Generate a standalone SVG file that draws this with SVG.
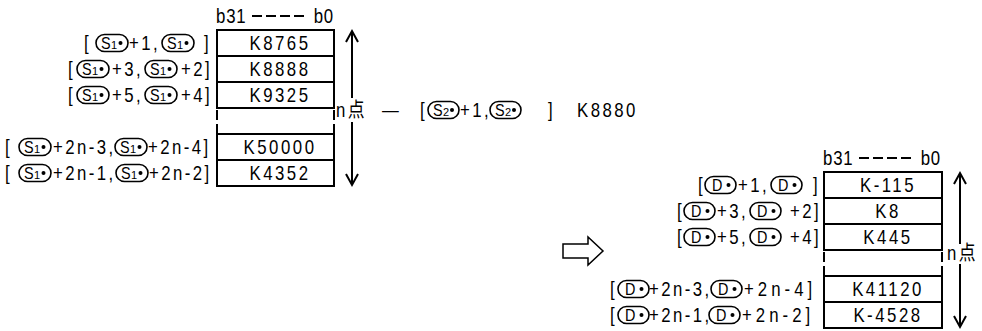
<svg xmlns="http://www.w3.org/2000/svg" xmlns:xlink="http://www.w3.org/1999/xlink" width="982" height="331" viewBox="0 0 982 331">
<style>
.t{font-family:"Liberation Sans",Arial,"Noto Sans CJK JP",sans-serif;font-size:20px;fill:#000;letter-spacing:2.9px}
.w{letter-spacing:4.8px}
.v{font-family:"Liberation Sans",Arial,sans-serif;font-size:20px;fill:#000;letter-spacing:3px;text-anchor:middle}
.h{font-family:"Liberation Sans",Arial,sans-serif;font-size:20px;fill:#000;letter-spacing:1px}
.box{fill:#fff;stroke:#000;stroke-width:2}
.dash{fill:none;stroke:#000;stroke-width:2;stroke-dasharray:10 4}
.pill{fill:#fff;stroke:#000;stroke-width:1.6}
.pt{font-family:"Liberation Sans",Arial,sans-serif;font-size:16px;fill:#000}
.ps{font-family:"Liberation Sans",Arial,sans-serif;font-size:11px;fill:#000}
.ln{fill:none;stroke:#000;stroke-width:2}
.ha{fill:#fff;stroke:#000;stroke-width:1.5}
</style>
<defs>
<g id="pS1"><rect class="pill" x="0" y="-8.5" width="32" height="17" rx="8.5"/><text class="pt" transform="translate(5,6) scale(.9,1)">S</text><text class="ps" x="15" y="6">1</text><circle cx="24.5" cy="0" r="2"/></g>
<g id="pS2"><rect class="pill" x="0" y="-8.5" width="31" height="17" rx="8.5"/><text class="pt" transform="translate(5,6) scale(.9,1)">S</text><text class="ps" x="15" y="6">2</text><circle cx="24" cy="0" r="2"/></g>
<g id="pD"><rect class="pill" x="0" y="-8.5" width="31" height="17" rx="8.5"/><text class="pt" transform="translate(7,6) scale(.9,1)">D</text><circle cx="23.5" cy="0" r="2"/></g>
</defs>

<g id="left-header">
<text class="h" transform="translate(216,23) scale(.84,1)">b31</text>
<line class="dash" x1="252" y1="16" x2="304" y2="16"/>
<text class="h" transform="translate(334,23) scale(.84,1)" text-anchor="end">b0</text>
</g>

<g id="left-row1">
<rect class="box" x="217" y="30" width="117" height="26"/>
<text class="v" transform="translate(280,50) scale(.84,1)">K8765</text>
<text class="t" transform="translate(84,50) scale(.84,1)">[</text><use xlink:href="#pS1" x="96" y="43"/><text class="t" transform="translate(129,50) scale(.84,1)">+1,</text><use xlink:href="#pS1" x="162" y="43"/><text class="t" transform="translate(204,50) scale(.84,1)">]</text>
</g>
<g id="left-row2">
<rect class="box" x="217" y="56" width="117" height="26"/>
<text class="v" transform="translate(280,76) scale(.84,1)">K8888</text>
<text class="t" transform="translate(68,76) scale(.84,1)">[</text><use xlink:href="#pS1" x="77" y="69"/><text class="t" transform="translate(112,76) scale(.84,1)">+3,</text><use xlink:href="#pS1" x="145" y="69"/><text class="t" transform="translate(181,76) scale(.84,1)">+2]</text>
</g>
<g id="left-row3">
<rect class="box" x="217" y="82" width="117" height="26"/>
<text class="v" transform="translate(280,102) scale(.84,1)">K9325</text>
<text class="t" transform="translate(68,102) scale(.84,1)">[</text><use xlink:href="#pS1" x="77" y="95"/><text class="t" transform="translate(112,102) scale(.84,1)">+5,</text><use xlink:href="#pS1" x="145" y="95"/><text class="t" transform="translate(181,102) scale(.84,1)">+4]</text>
</g>
<g id="left-gap">
<line class="dash" x1="217" y1="110" x2="217" y2="134"/>
<line class="dash" x1="334" y1="110" x2="334" y2="134"/>
</g>
<g id="left-row5">
<rect class="box" x="217" y="134" width="117" height="26"/>
<text class="v" transform="translate(280,154) scale(.84,1)">K50000</text>
<text class="t" transform="translate(5,154) scale(.84,1)">[</text><use xlink:href="#pS1" x="19" y="147"/><text class="t" transform="translate(53,154) scale(.84,1)">+2n-3,</text><use xlink:href="#pS1" x="115" y="147"/><text class="t" transform="translate(148,154) scale(.84,1)">+2n-4]</text>
</g>
<g id="left-row6">
<rect class="box" x="217" y="160" width="117" height="26"/>
<text class="v" transform="translate(280,180) scale(.84,1)">K4352</text>
<text class="t" transform="translate(5,180) scale(.84,1)">[</text><use xlink:href="#pS1" x="19" y="173"/><text class="t" transform="translate(53,180) scale(.84,1)">+2n-1,</text><use xlink:href="#pS1" x="116" y="173"/><text class="t" transform="translate(149,180) scale(.84,1)">+2n-2]</text>
</g>
<g id="left-count">
<text class="t" transform="translate(336,117) scale(.84,1)">n点</text>
</g>

<g id="source2">
<text class="t" transform="translate(382,117) scale(.84,1)">—</text>
<text class="t" transform="translate(420,117) scale(.84,1)">[</text><use xlink:href="#pS2" x="428" y="110"/><text class="t" transform="translate(460,117) scale(.84,1)">+1,</text><use xlink:href="#pS2" x="490" y="110"/><text class="t" transform="translate(548,117) scale(.84,1)">]</text>
<text class="t" transform="translate(577,117) scale(.84,1)">K8880</text>
</g>

<g id="right-header">
<text class="h" transform="translate(823,165) scale(.84,1)">b31</text>
<line class="dash" x1="859" y1="158" x2="911" y2="158"/>
<text class="h" transform="translate(941,165) scale(.84,1)" text-anchor="end">b0</text>
</g>
<g id="right-row1">
<rect class="box" x="824" y="172" width="118" height="26"/>
<text class="v" transform="translate(888,192) scale(.84,1)">K-115</text>
<text class="t" transform="translate(698,192) scale(.84,1)">[</text><use xlink:href="#pD" x="705" y="185"/><text class="t" transform="translate(738,192) scale(.84,1)">+1,</text><use xlink:href="#pD" x="771" y="185"/><text class="t" transform="translate(813,192) scale(.84,1)">]</text>
</g>
<g id="right-row2">
<rect class="box" x="824" y="198" width="118" height="26"/>
<text class="v" transform="translate(888,218) scale(.84,1)">K8</text>
<text class="t" transform="translate(677,218) scale(.84,1)">[</text><use xlink:href="#pD" x="684" y="211"/><text class="t" transform="translate(717,218) scale(.84,1)">+3,</text><use xlink:href="#pD" x="750" y="211"/><text class="t" transform="translate(790,218) scale(.84,1)">+2]</text>
</g>
<g id="right-row3">
<rect class="box" x="824" y="224" width="118" height="26"/>
<text class="v" transform="translate(888,244) scale(.84,1)">K445</text>
<text class="t" transform="translate(677,244) scale(.84,1)">[</text><use xlink:href="#pD" x="684" y="237"/><text class="t" transform="translate(717,244) scale(.84,1)">+5,</text><use xlink:href="#pD" x="750" y="237"/><text class="t" transform="translate(790,244) scale(.84,1)">+4]</text>
</g>
<g id="right-gap">
<line class="dash" x1="824" y1="252" x2="824" y2="276"/>
<line class="dash" x1="942" y1="252" x2="942" y2="276"/>
</g>
<g id="right-row5">
<rect class="box" x="824" y="276" width="118" height="26"/>
<text class="v" transform="translate(888,296) scale(.84,1)">K41120</text>
<text class="t" transform="translate(610,296) scale(.84,1)">[</text><use xlink:href="#pD" x="618" y="289"/><text class="t" transform="translate(649,296) scale(.84,1)">+2n-3,</text><use xlink:href="#pD" x="711" y="289"/><text class="t w" transform="translate(744,296) scale(.84,1)">+2n-4]</text>
</g>
<g id="right-row6">
<rect class="box" x="824" y="302" width="118" height="26"/>
<text class="v" transform="translate(888,322) scale(.84,1)">K-4528</text>
<text class="t" transform="translate(610,322) scale(.84,1)">[</text><use xlink:href="#pD" x="618" y="315"/><text class="t" transform="translate(649,322) scale(.84,1)">+2n-1,</text><use xlink:href="#pD" x="709" y="315"/><text class="t w" transform="translate(742,322) scale(.84,1)">+2n-2]</text>
</g>
<g id="right-count">
<text class="t" transform="translate(947,260) scale(.84,1)">n点</text>
</g>

<g id="connectors">
<line class="ln" x1="352" y1="31" x2="352" y2="98"/>
<line class="ln" x1="352" y1="122" x2="352" y2="185"/>
<polyline class="ln" points="346,42 352,31 358,42"/>
<polyline class="ln" points="346,174 352,185 358,174"/>
<line class="ln" x1="960" y1="173" x2="960" y2="244"/>
<line class="ln" x1="960" y1="264" x2="960" y2="327"/>
<polyline class="ln" points="954,184 960,173 966,184"/>
<polyline class="ln" points="954,316 960,327 966,316"/>
<polygon class="ha" points="563,244 588,244 588,237 603,251 588,265 588,258 563,258"/>
</g>
</svg>
